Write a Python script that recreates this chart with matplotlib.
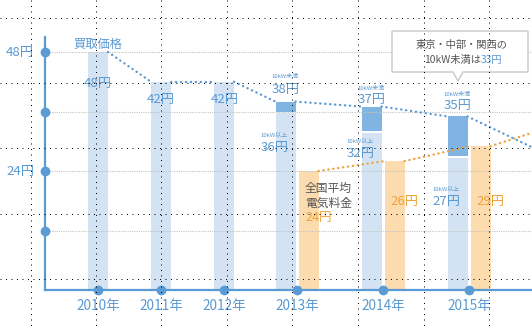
import matplotlib.pyplot as plt
from matplotlib.patches import Polygon

plt.rcParams['font.family'] = ['Noto Sans CJK JP', 'DejaVu Sans']

# data
years = ['2010年', '2011年', '2012年', '2013年', '2014年', '2015年']
buy_small = [48, 42, 42, 38, 37, 35]          # 買取価格 (10kW未満)
buy_large = [None, None, None, 36, 32, 27]    # 10kW以上
elec_price = [None, None, None, 24, 26, 29]   # 全国平均電気料金
buy_tail = 28.8
elec_tail = 31.7
y_marks = [12, 24, 36, 48]
y_labels = [48, 24]
note_price = 33

# colours
BLUE = '#5b9bd5'
TXT_BLUE = '#5a9ad3'
LIGHT = '#d3e3f3'
DARK = '#80b5e3'
ORANGE = '#eea23a'
ORANGE_BAR = '#fcdcae'
GREY = '#555555'

W, H = 532, 326
X0, Y0, YTOP = 45, 290, 37
PPU = 4.958
year_x = [98, 161, 224, 297, 383, 469]
bw = 20
off = 11.5

def yv(py):
    return (Y0 - py) / PPU

fig = plt.figure(figsize=(W / 100, H / 100), dpi=100)
ax = fig.add_axes([X0 / W, (H - Y0) / H, (W - X0) / W, (Y0 - YTOP) / H])
ax.set_xlim(X0, W)
ax.set_ylim(0, (Y0 - YTOP) / PPU)
for s in ['top', 'right']:
    ax.spines[s].set_visible(False)
for s in ['left', 'bottom']:
    ax.spines[s].set_color(BLUE)
    ax.spines[s].set_linewidth(1.6)
ax.set_xticks([])
ax.set_yticks([])

# bars
blue_x = []
for i, x in enumerate(year_x):
    if buy_large[i] is None:
        ax.bar(x, buy_small[i], width=bw, color=LIGHT, zorder=2)
        blue_x.append(x)
    else:
        bx = x - off
        blue_x.append(bx)
        ax.bar(bx, buy_large[i] - 0.4, width=bw, color=LIGHT, zorder=2)
        ax.bar(bx, buy_small[i] - buy_large[i], bottom=buy_large[i], width=bw,
               color=DARK, zorder=2)
        ax.bar(x + off, elec_price[i], width=bw, color=ORANGE_BAR, zorder=2)

# grey guide lines
ax.hlines(y_marks, X0, W, colors='#c4c4c4', linestyles=(0, (1, 1)), lw=0.8, zorder=3)

# dotted trend lines
dot = dict(lw=1.7, linestyle=(0, (0.1, 2.0)), dash_capstyle='round', zorder=4, clip_on=False)
for i in range(len(years) - 1):
    ax.plot([blue_x[i] + bw / 2, blue_x[i + 1] - bw / 2], [buy_small[i], buy_small[i + 1]],
            color=BLUE, **dot)
ax.plot([blue_x[-1] + bw / 2, W], [buy_small[-1], buy_tail], color=BLUE, **dot)

ex = [year_x[i] + off for i in range(3, 6)]
ev = elec_price[3:]
for i in range(len(ex) - 1):
    ax.plot([ex[i] + bw / 2, ex[i + 1] - bw / 2], [ev[i], ev[i + 1]], color=ORANGE, **dot)
ax.plot([ex[-1] + bw / 2, W], [ev[-1], elec_tail], color=ORANGE, **dot)

# axis markers
ax.plot([X0] * len(y_marks), y_marks, 'o', ms=6, color=BLUE, clip_on=False, zorder=6)
ax.plot(year_x, [0] * len(year_x), 'o', ms=6, color=BLUE, clip_on=False, zorder=6)
for v in y_labels:
    ax.text(X0 - 11, v, f'{v}円', ha='right', va='center', fontsize=9.5, color=TXT_BLUE)
for x, lab in zip(year_x, years):
    ax.text(x, yv(306), lab, ha='center', va='center', fontsize=9.8, color=TXT_BLUE)

# value labels
vt = dict(ha='center', va='center', fontsize=9.5, color=TXT_BLUE, zorder=5)
st = dict(ha='center', va='center', fontsize=4.3, color=TXT_BLUE, zorder=5)
ax.text(blue_x[0], yv(84), f'{buy_small[0]}円', **vt)
ax.text(blue_x[1], yv(100), f'{buy_small[1]}円', **vt)
ax.text(blue_x[2] + 1, yv(100), f'{buy_small[2]}円', **vt)

small_pos = [(0, 89), (0, 100), (0, 106)]
large_pos = [(-11, 147), (-11, 153), (-11, 201)]
for k, i in enumerate(range(3, 6)):
    dx, py = small_pos[k]
    ax.text(blue_x[i] + dx, yv(py - 12), '10kW未満', **st)
    ax.text(blue_x[i] + dx, yv(py), f'{buy_small[i]}円', **vt)
    dx, py = large_pos[k]
    ax.text(blue_x[i] + dx, yv(py - 12), '10kW以上', **st)
    ax.text(blue_x[i] + dx, yv(py), f'{buy_large[i]}円', **vt)

ax.text(blue_x[0], yv(44), '買取価格', ha='center', va='center', fontsize=8.8,
        color=TXT_BLUE, zorder=5)

ax.text(305, yv(188), '全国平均', ha='left', va='center', fontsize=8.5, color=GREY, zorder=5)
ax.text(305, yv(203), '電気料金', ha='left', va='center', fontsize=8.5, color=GREY, zorder=5)
ax.text(305, yv(218), f'{elec_price[3]}円', ha='left', va='center', fontsize=9,
        color=ORANGE, zorder=5)
ax.text(ex[1] + 10, yv(201), f'{elec_price[4]}円', ha='center', va='center',
        fontsize=9.5, color=ORANGE, zorder=5)
ax.text(ex[2] + 10, yv(201), f'{elec_price[5]}円', ha='center', va='center',
        fontsize=9.5, color=ORANGE, zorder=5)

# overlay in pixel coordinates: callout + dotted paper grid
ov = fig.add_axes([0, 0, 1, 1])
ov.set_xlim(0, W)
ov.set_ylim(H, 0)
ov.axis('off')
ov.patch.set_visible(False)
ov.set_zorder(10)

box = [(392, 31), (528, 31), (528, 72), (463, 72), (458, 81), (453, 72), (392, 72)]
ov.add_patch(Polygon(box, closed=True, facecolor='white', edgecolor='#c8c8c8', lw=1, zorder=1))
ov.text(462, 45, '東京・中部・関西の', ha='center', va='center', fontsize=7.4, color=GREY, zorder=2)
ov.text(481, 60, '10kW未満は', ha='right', va='center', fontsize=7.4, color=GREY, zorder=2)
ov.text(481, 60, f'{note_price}円', ha='left', va='center', fontsize=7.4, color=TXT_BLUE, zorder=2)

grid_x = [30, 95, 160, 226, 291, 357, 423, 488]
grid_y = [17, 82, 147, 213, 278]
paper = dict(colors='black', linestyles=(0, (1, 4.5)), lw=0.72, zorder=3)
ov.vlines([g + 0.5 for g in grid_x], 0, H, **paper)
ov.hlines([g + 0.5 for g in grid_y], 0, W, **paper)

fig.savefig('out.png', dpi=100, facecolor='white')
